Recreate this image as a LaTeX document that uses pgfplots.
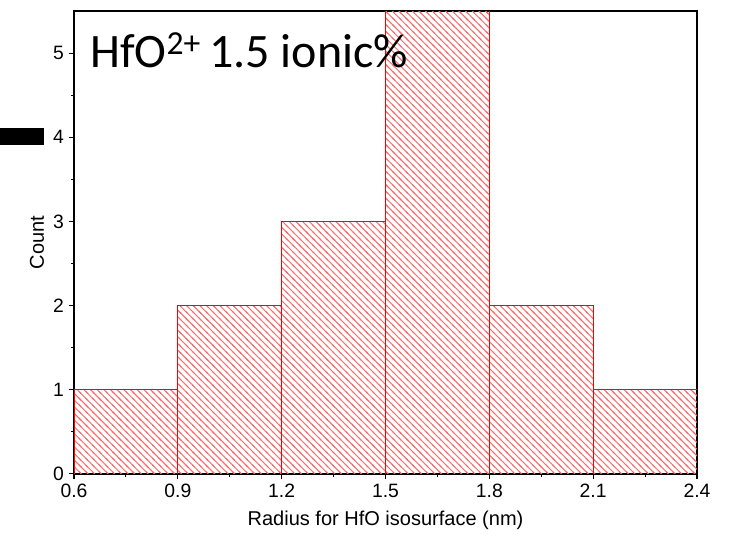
\documentclass[border=0pt]{standalone}
\usepackage{pgfplots}
\pgfplotsset{compat=1.18}
\usepackage{fontspec}
\setmainfont{Liberation Sans}
\newfontfamily\calibri{Carlito}
\usetikzlibrary{patterns}
\pgfdeclarepatterninherentlycolored{redhatch}
{\pgfqpoint{-1pt}{-1pt}}{\pgfqpoint{6pt}{6pt}}{\pgfqpoint{5pt}{5pt}}
{
  \pgfsetcolor{red!60}
  \pgfsetlinewidth{0.7pt}
  \pgfpathmoveto{\pgfqpoint{-1pt}{6pt}}
  \pgfpathlineto{\pgfqpoint{6pt}{-1pt}}
  \pgfusepath{stroke}
}
\begin{document}
\begin{tikzpicture}
\begin{axis}[
  at={(0,0)}, anchor=south west,
  scale only axis, width=467pt, height=347pt,
  xmin=0.6, xmax=2.4, ymin=0, ymax=5.5,
  xtick={0.6,0.9,...,2.41}, ytick={0,1,...,5},
  minor x tick num=1, minor y tick num=1,
  tick pos=left, tick align=outside,
  major tick length=4pt, minor tick length=2.5pt,
  axis line style={line width=1.1pt},
  every tick/.style={black, line width=0.8pt},
  /pgf/number format/assume math mode=true,
  xticklabel style={/pgf/number format/.cd, fixed, fixed zerofill, precision=1},
  tick label style={font=\fontsize{14.5}{16}\selectfont},
  label style={font=\fontsize{15}{17}\selectfont},
  xlabel={Radius for HfO isosurface (nm)},
  xlabel style={yshift=-3pt},
  ylabel={Count},
  clip=true,
]
% histogram bins (left edge, count)
\addplot[ybar interval, draw=none, pattern=redhatch]
  coordinates {(0.6,1) (0.9,2) (1.2,3) (1.5,6) (1.8,2) (2.1,1) (2.4,1)};
% outline: top steps
\addplot[const plot mark left, color=red, line width=0.7pt, mark=none]
  coordinates {(0.6,1) (0.9,2) (1.2,3) (1.5,6) (1.8,2) (2.1,1) (2.4,1)};
% outline: bin edges (height = taller neighbouring bin)
\addplot[ycomb, color=red, line width=0.7pt, mark=none]
  coordinates {(0.6,1) (0.9,2) (1.2,3) (1.5,6) (1.8,6) (2.1,2) (2.4,1)};
\node[anchor=base west, inner sep=0pt, font=\calibri\fontsize{36}{40}\selectfont]
  at (rel axis cs:0.0257,0.879) {HfO\textsuperscript{2+}\,1.5 ionic\%};
\end{axis}
\fill[black] (-55.5pt,246.75pt) rectangle (-22.5pt,259.5pt);
\pgfresetboundingbox
\path (-55.5pt,-49pt) rectangle (495.5pt,355.25pt);
\end{tikzpicture}
\end{document}
